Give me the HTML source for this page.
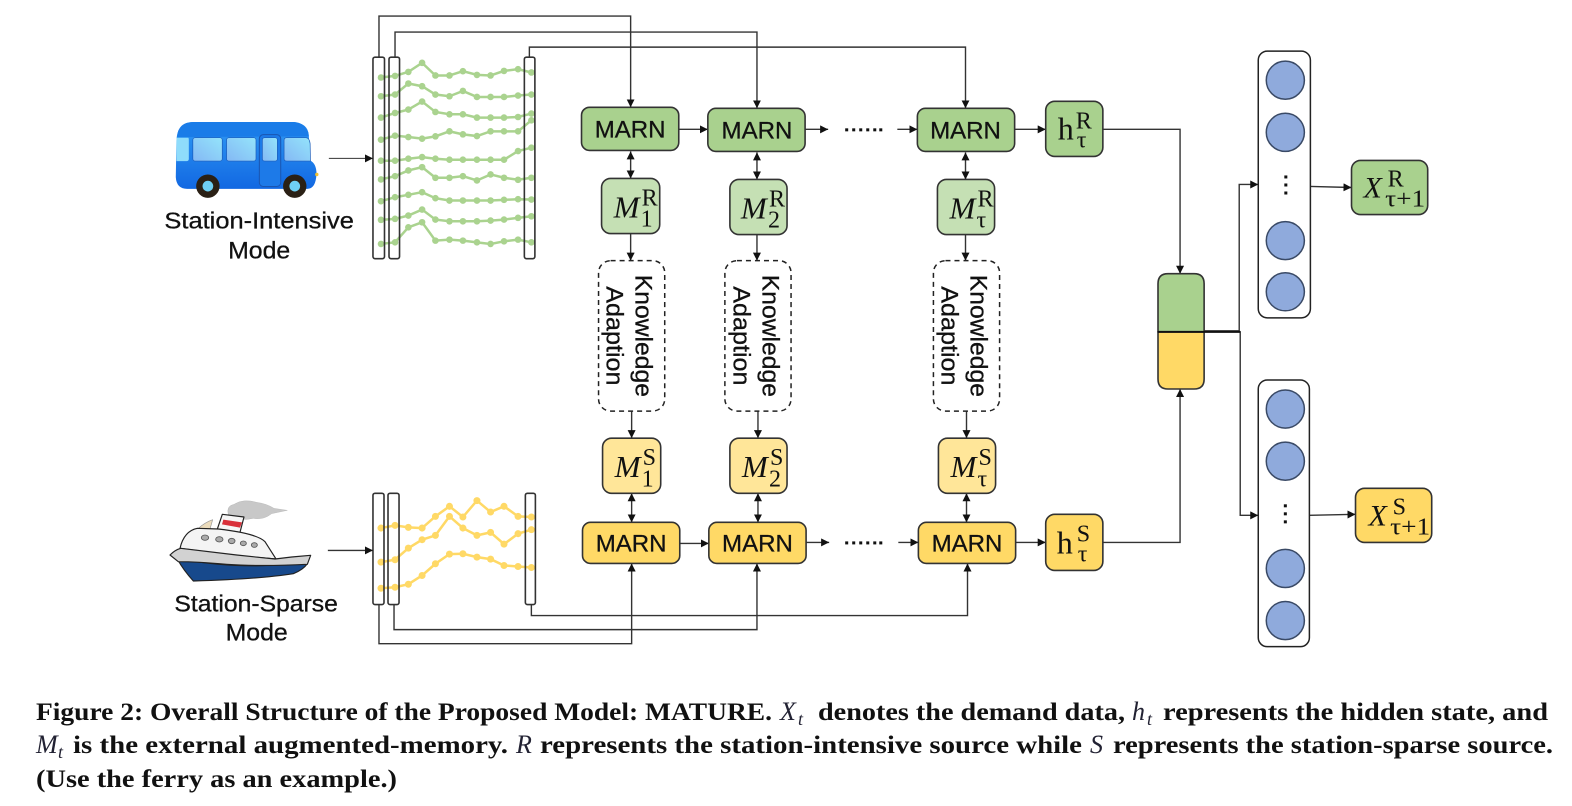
<!DOCTYPE html>
<html>
<head>
<meta charset="utf-8">
<style>
html,body{margin:0;padding:0;background:#fff;width:1572px;height:806px;overflow:hidden}
svg{display:block;filter:blur(.35px)}
.b{stroke:#333;stroke-width:1.6}
.l{fill:none;stroke:#333;stroke-width:1.4}
.t{font-family:"Liberation Sans",sans-serif;fill:#111;stroke:#111;stroke-width:.3;text-anchor:middle}
.m{font-family:"Liberation Serif",serif;fill:#111}
.i{font-style:italic}
.c{font-family:"Liberation Serif",serif;font-size:25px;font-weight:bold;fill:#111}
.ci{font-family:"Liberation Serif",serif;font-size:26px;font-style:italic;fill:#223}
.cs{font-family:"Liberation Serif",serif;font-size:18px;font-style:italic;fill:#223}
</style>
</head>
<body>
<svg width="1572" height="806" viewBox="0 0 1572 806" xmlns="http://www.w3.org/2000/svg">
<defs>
<marker id="a" markerWidth="9" markerHeight="8" refX="8" refY="4" orient="auto-start-reverse" markerUnits="userSpaceOnUse"><path d="M0,0L8,4L0,8Z" fill="#111"/></marker>
<linearGradient id="bg" x1="0" y1="0" x2="0" y2="1"><stop offset="0" stop-color="#2f9af5"/><stop offset="1" stop-color="#1268e2"/></linearGradient>
<linearGradient id="wg" x1="0" y1="1" x2="1" y2="0"><stop offset="0" stop-color="#84b8f4"/><stop offset="1" stop-color="#94e4fb"/></linearGradient>
</defs>

<!-- ship (true coordinates) -->
<g transform="translate(160,495) scale(.33333)" stroke="#222" stroke-width="3.500" stroke-linejoin="round">
<path d="M205,60Q198,32 222,28Q250,10 290,22Q320,26 342,40L382,46L335,56Q310,76 280,70Q240,80 205,60Z" fill="#c8c8c8" stroke="#aaa" stroke-width="1"/>
<path d="M115,100Q135,82 158,74L150,102Z" fill="#ecdcbc" stroke="#999" stroke-width="2"/>
<path d="M187,58L252,66L240,112L172,102Z" fill="#f6f6f6"/>
<path d="M190,74L246,82L240,98L186,88Z" fill="#d9303a" stroke="none"/>
<path d="M60,160Q72,108 112,100L175,102Q290,115 315,140L348,192L230,182Z" fill="#f4f4f4"/>
<g fill="#aaa" stroke="#555" stroke-width="2.500">
<ellipse cx="135" cy="128" rx="11" ry="8"/><ellipse cx="178" cy="133" rx="11" ry="8"/><ellipse cx="215" cy="138" rx="10" ry="8"/><ellipse cx="250" cy="145" rx="9" ry="7"/><ellipse cx="283" cy="150" rx="9" ry="7"/>
</g>
<path d="M52,192Q200,215 300,212L442,206Q430,224 400,236Q300,252 100,258Q70,225 52,192Z" fill="#17498c"/>
<path d="M30,180Q45,165 62,160L230,180L345,192L395,186L452,181L442,208Q300,215 200,208Q110,200 55,200Z" fill="#d2d2d2"/>
</g>

<g transform="scale(1.0026)">
<!-- bus -->
<g transform="translate(150,0) scale(.33333)">
<path d="M78,420Q80,365 130,365L430,365Q472,370 474,405L478,480Q497,490 497,520Q495,565 470,565L110,565Q78,565 76,530Z" fill="url(#bg)"/>
<path d="M80,410Q82,365 130,365L430,365Q472,370 474,408Z" fill="#1a7ce8"/>
<circle cx="498" cy="522" r="5" fill="#f2c230"/>
<path d="M78,412L113,412Q115,412 115,420L115,475Q115,482 108,482L78,482Z" fill="#8fdcfb"/>
<rect x="127" y="412" width="88" height="70" rx="7" fill="url(#wg)" stroke="#1a5ab8" stroke-width="2"/>
<rect x="228" y="412" width="88" height="70" rx="7" fill="url(#wg)" stroke="#1a5ab8" stroke-width="2"/>
<rect x="326" y="403" width="64" height="155" rx="12" fill="#1d7ae8" stroke="#1a55b0" stroke-width="3"/>
<rect x="335" y="412" width="45" height="70" rx="7" fill="url(#wg)" stroke="#1a5ab8" stroke-width="2"/>
<path d="M408,412L465,412Q476,412 478,430L479,482L408,482Q400,482 400,475L400,420Q400,412 408,412Z" fill="url(#wg)" stroke="#1a5ab8" stroke-width="2"/>
<circle cx="172" cy="557" r="35" fill="#2a2015"/><circle cx="172" cy="557" r="16" fill="#6fd0f5"/>
<circle cx="432" cy="557" r="35" fill="#2a2015"/><circle cx="432" cy="557" r="16" fill="#6fd0f5"/>
</g>

<!-- mode labels -->
<text class="t" x="258.500" y="228" font-size="23.500" textLength="189" lengthAdjust="spacingAndGlyphs">Station-Intensive</text>
<text class="t" x="258.500" y="258" font-size="24" textLength="62" lengthAdjust="spacingAndGlyphs">Mode</text>
<text class="t" x="255.500" y="610" font-size="23.500" textLength="163" lengthAdjust="spacingAndGlyphs">Station-Sparse</text>
<text class="t" x="256" y="639" font-size="24" textLength="62" lengthAdjust="spacingAndGlyphs">Mode</text>

<!-- green series -->
<g fill="none" stroke="#aad38f" stroke-width="2.500">
<polyline points="380,77.300 394,75.700 407.300,71.700 421,62.700 434.300,75.300 448.300,75.300 461.700,71 475.700,74.700 489.300,75.300 502.700,70.700 516.700,69 530,72.300"/>
<polyline points="380,96 394,94.300 407.300,83.300 421,86 434.300,94.300 448.300,96 461.700,90.700 475.700,96.700 489.300,96.700 502.700,96.700 516.700,95.300 530,94.300"/>
<polyline points="380,117.300 394,112.700 407.300,109.300 421,101.300 434.300,111.700 448.300,114 461.700,114 475.700,117.300 489.300,117.300 502.700,117.300 516.700,116.700 530,113.300"/>
<polyline points="380,139.300 394,135.300 407.300,136.700 421,138.300 434.300,136 448.300,131 461.700,134 475.700,135.700 489.300,131 502.700,131 516.700,131 530,120"/>
<polyline points="380,160.300 394,160.300 407.300,158.300 421,156.700 434.300,158.300 448.300,159.300 461.700,159.300 475.700,159.300 489.300,159.300 502.700,159.300 516.700,150.700 530,147.300"/>
<polyline points="380,179 394,175.700 407.300,170 421,166.700 434.300,177.300 448.300,177.300 461.700,175.700 475.700,180 489.300,174 502.700,177.300 516.700,179.300 530,177.300"/>
<polyline points="380,200.700 394,196.700 407.300,194.300 421,191.700 434.300,197.700 448.300,200 461.700,200 475.700,200 489.300,200 502.700,199.300 516.700,198.700 530,199"/>
<polyline points="380,219.300 394,218.300 407.300,215 421,209 434.300,219 448.300,220.700 461.700,220.700 475.700,220.700 489.300,220 502.700,219 516.700,217.300 530,215.700"/>
<polyline points="380,243.300 394,241.700 407.300,226.700 421,221.700 434.300,240 448.300,239 461.700,240 475.700,241.700 489.300,243.300 502.700,240.700 516.700,239 530,241.700"/>
</g>
<g fill="#aad38f">
<circle cx="380" cy="77.300" r="3.300"/><circle cx="394" cy="75.700" r="3.300"/><circle cx="407.300" cy="71.700" r="3.300"/><circle cx="421" cy="62.700" r="3.300"/><circle cx="434.300" cy="75.300" r="3.300"/><circle cx="448.300" cy="75.300" r="3.300"/><circle cx="461.700" cy="71" r="3.300"/><circle cx="475.700" cy="74.700" r="3.300"/><circle cx="489.300" cy="75.300" r="3.300"/><circle cx="502.700" cy="70.700" r="3.300"/><circle cx="516.700" cy="69" r="3.300"/><circle cx="530" cy="72.300" r="3.300"/>
<circle cx="380" cy="96" r="3.300"/><circle cx="394" cy="94.300" r="3.300"/><circle cx="407.300" cy="83.300" r="3.300"/><circle cx="421" cy="86" r="3.300"/><circle cx="434.300" cy="94.300" r="3.300"/><circle cx="448.300" cy="96" r="3.300"/><circle cx="461.700" cy="90.700" r="3.300"/><circle cx="475.700" cy="96.700" r="3.300"/><circle cx="489.300" cy="96.700" r="3.300"/><circle cx="502.700" cy="96.700" r="3.300"/><circle cx="516.700" cy="95.300" r="3.300"/><circle cx="530" cy="94.300" r="3.300"/>
<circle cx="380" cy="117.300" r="3.300"/><circle cx="394" cy="112.700" r="3.300"/><circle cx="407.300" cy="109.300" r="3.300"/><circle cx="421" cy="101.300" r="3.300"/><circle cx="434.300" cy="111.700" r="3.300"/><circle cx="448.300" cy="114" r="3.300"/><circle cx="461.700" cy="114" r="3.300"/><circle cx="475.700" cy="117.300" r="3.300"/><circle cx="489.300" cy="117.300" r="3.300"/><circle cx="502.700" cy="117.300" r="3.300"/><circle cx="516.700" cy="116.700" r="3.300"/><circle cx="530" cy="113.300" r="3.300"/>
<circle cx="380" cy="139.300" r="3.300"/><circle cx="394" cy="135.300" r="3.300"/><circle cx="407.300" cy="136.700" r="3.300"/><circle cx="421" cy="138.300" r="3.300"/><circle cx="434.300" cy="136" r="3.300"/><circle cx="448.300" cy="131" r="3.300"/><circle cx="461.700" cy="134" r="3.300"/><circle cx="475.700" cy="135.700" r="3.300"/><circle cx="489.300" cy="131" r="3.300"/><circle cx="502.700" cy="131" r="3.300"/><circle cx="516.700" cy="131" r="3.300"/><circle cx="530" cy="120" r="3.300"/>
<circle cx="380" cy="160.300" r="3.300"/><circle cx="394" cy="160.300" r="3.300"/><circle cx="407.300" cy="158.300" r="3.300"/><circle cx="421" cy="156.700" r="3.300"/><circle cx="434.300" cy="158.300" r="3.300"/><circle cx="448.300" cy="159.300" r="3.300"/><circle cx="461.700" cy="159.300" r="3.300"/><circle cx="475.700" cy="159.300" r="3.300"/><circle cx="489.300" cy="159.300" r="3.300"/><circle cx="502.700" cy="159.300" r="3.300"/><circle cx="516.700" cy="150.700" r="3.300"/><circle cx="530" cy="147.300" r="3.300"/>
<circle cx="380" cy="179" r="3.300"/><circle cx="394" cy="175.700" r="3.300"/><circle cx="407.300" cy="170" r="3.300"/><circle cx="421" cy="166.700" r="3.300"/><circle cx="434.300" cy="177.300" r="3.300"/><circle cx="448.300" cy="177.300" r="3.300"/><circle cx="461.700" cy="175.700" r="3.300"/><circle cx="475.700" cy="180" r="3.300"/><circle cx="489.300" cy="174" r="3.300"/><circle cx="502.700" cy="177.300" r="3.300"/><circle cx="516.700" cy="179.300" r="3.300"/><circle cx="530" cy="177.300" r="3.300"/>
<circle cx="380" cy="200.700" r="3.300"/><circle cx="394" cy="196.700" r="3.300"/><circle cx="407.300" cy="194.300" r="3.300"/><circle cx="421" cy="191.700" r="3.300"/><circle cx="434.300" cy="197.700" r="3.300"/><circle cx="448.300" cy="200" r="3.300"/><circle cx="461.700" cy="200" r="3.300"/><circle cx="475.700" cy="200" r="3.300"/><circle cx="489.300" cy="200" r="3.300"/><circle cx="502.700" cy="199.300" r="3.300"/><circle cx="516.700" cy="198.700" r="3.300"/><circle cx="530" cy="199" r="3.300"/>
<circle cx="380" cy="219.300" r="3.300"/><circle cx="394" cy="218.300" r="3.300"/><circle cx="407.300" cy="215" r="3.300"/><circle cx="421" cy="209" r="3.300"/><circle cx="434.300" cy="219" r="3.300"/><circle cx="448.300" cy="220.700" r="3.300"/><circle cx="461.700" cy="220.700" r="3.300"/><circle cx="475.700" cy="220.700" r="3.300"/><circle cx="489.300" cy="220" r="3.300"/><circle cx="502.700" cy="219" r="3.300"/><circle cx="516.700" cy="217.300" r="3.300"/><circle cx="530" cy="215.700" r="3.300"/>
<circle cx="380" cy="243.300" r="3.300"/><circle cx="394" cy="241.700" r="3.300"/><circle cx="407.300" cy="226.700" r="3.300"/><circle cx="421" cy="221.700" r="3.300"/><circle cx="434.300" cy="240" r="3.300"/><circle cx="448.300" cy="239" r="3.300"/><circle cx="461.700" cy="240" r="3.300"/><circle cx="475.700" cy="241.700" r="3.300"/><circle cx="489.300" cy="243.300" r="3.300"/><circle cx="502.700" cy="240.700" r="3.300"/><circle cx="516.700" cy="239" r="3.300"/><circle cx="530" cy="241.700" r="3.300"/>
</g>

<!-- yellow series -->
<g fill="none" stroke="#ffd966" stroke-width="2.500">
<polyline points="380,526.700 394,524 407.300,526 421,526.700 434.300,515 448.300,505 461.700,515.700 475.700,499.300 489.300,510.700 502.700,505 516.700,515 530,515.700"/>
<polyline points="380,560.700 394,558.300 407.300,546.700 421,538.300 434.300,534 448.300,515 461.700,526.700 475.700,534 489.300,531 502.700,542.700 516.700,532.300 530,528.300"/>
<polyline points="380,586.700 394,585.700 407.300,582.700 421,574 434.300,562.300 448.300,552.700 461.700,552.300 475.700,555.700 489.300,557.700 502.700,564 516.700,565 530,566"/>
</g>
<g fill="#ffd966">
<circle cx="380" cy="526.700" r="3.500"/><circle cx="394" cy="524" r="3.500"/><circle cx="407.300" cy="526" r="3.500"/><circle cx="421" cy="526.700" r="3.500"/><circle cx="434.300" cy="515" r="3.500"/><circle cx="448.300" cy="505" r="3.500"/><circle cx="461.700" cy="515.700" r="3.500"/><circle cx="475.700" cy="499.300" r="3.500"/><circle cx="489.300" cy="510.700" r="3.500"/><circle cx="502.700" cy="505" r="3.500"/><circle cx="516.700" cy="515" r="3.500"/><circle cx="530" cy="515.700" r="3.500"/>
<circle cx="380" cy="560.700" r="3.500"/><circle cx="394" cy="558.300" r="3.500"/><circle cx="407.300" cy="546.700" r="3.500"/><circle cx="421" cy="538.300" r="3.500"/><circle cx="434.300" cy="534" r="3.500"/><circle cx="448.300" cy="515" r="3.500"/><circle cx="461.700" cy="526.700" r="3.500"/><circle cx="475.700" cy="534" r="3.500"/><circle cx="489.300" cy="531" r="3.500"/><circle cx="502.700" cy="542.700" r="3.500"/><circle cx="516.700" cy="532.300" r="3.500"/><circle cx="530" cy="528.300" r="3.500"/>
<circle cx="380" cy="586.700" r="3.500"/><circle cx="394" cy="585.700" r="3.500"/><circle cx="407.300" cy="582.700" r="3.500"/><circle cx="421" cy="574" r="3.500"/><circle cx="434.300" cy="562.300" r="3.500"/><circle cx="448.300" cy="552.700" r="3.500"/><circle cx="461.700" cy="552.300" r="3.500"/><circle cx="475.700" cy="555.700" r="3.500"/><circle cx="489.300" cy="557.700" r="3.500"/><circle cx="502.700" cy="564" r="3.500"/><circle cx="516.700" cy="565" r="3.500"/><circle cx="530" cy="566" r="3.500"/>
</g>

<!-- sequence bars -->
<g fill="none" class="b">
<rect x="372" y="57" width="11.500" height="201" rx="2"/>
<rect x="388" y="57" width="10.500" height="201" rx="2"/>
<rect x="523" y="57" width="10.500" height="201" rx="2"/>
<rect x="372" y="492" width="11" height="111" rx="2"/>
<rect x="387" y="492" width="11" height="111" rx="2"/>
<rect x="524" y="492" width="10" height="111" rx="2"/>
</g>

<!-- connectors -->
<g class="l">
<path d="M378,57V16H629V107" marker-end="url(#a)"/>
<path d="M394,57V32H755V108" marker-end="url(#a)"/>
<path d="M528,57V47H963V108" marker-end="url(#a)"/>
<path d="M378,603V642H630V562" marker-end="url(#a)"/>
<path d="M393,603V628H755V562" marker-end="url(#a)"/>
<path d="M530,603V614H965V562" marker-end="url(#a)"/>
<path d="M328,158H372" stroke-width="1" marker-end="url(#a)"/>
<path d="M327,549H372" marker-end="url(#a)"/>
<path d="M677,129H706" marker-end="url(#a)"/>
<path d="M803,129H826" marker-end="url(#a)"/>
<path d="M895,129H915" marker-end="url(#a)"/>
<path d="M1012,129H1043" marker-end="url(#a)"/>
<path d="M678,542H707" marker-end="url(#a)"/>
<path d="M804,541H827" marker-end="url(#a)"/>
<path d="M896,541H916" marker-end="url(#a)"/>
<path d="M1013,541H1043" marker-end="url(#a)"/>
<path d="M1100,129H1177V273" marker-end="url(#a)"/>
<path d="M1100,541H1177V388" marker-end="url(#a)"/>
<path d="M1201,330H1236V184H1255" marker-end="url(#a)"/>
<path d="M1201,331H1237V514H1255" marker-end="url(#a)"/>
<path d="M1307,186L1348,187" marker-end="url(#a)"/>
<path d="M1306,514L1352,513" marker-end="url(#a)"/>
<path d="M629,233V260" marker-end="url(#a)"/>
<path d="M755,234V260" marker-end="url(#a)"/>
<path d="M963,234V260" marker-end="url(#a)"/>
<path d="M630,410V437" marker-end="url(#a)"/>
<path d="M756,410V437" marker-end="url(#a)"/>
<path d="M964,410V437" marker-end="url(#a)"/>
<path d="M629,151V178" marker-start="url(#a)" marker-end="url(#a)"/>
<path d="M755,152V179" marker-start="url(#a)" marker-end="url(#a)"/>
<path d="M963,152V179" marker-start="url(#a)" marker-end="url(#a)"/>
<path d="M630,492V521" marker-start="url(#a)" marker-end="url(#a)"/>
<path d="M756,492V521" marker-start="url(#a)" marker-end="url(#a)"/>
<path d="M964,492V521" marker-start="url(#a)" marker-end="url(#a)"/>
</g>

<!-- dots -->
<g fill="#111">
<rect x="843" y="128" width="3" height="3"/><rect x="850" y="128" width="3" height="3"/><rect x="857" y="128" width="3" height="3"/><rect x="864" y="128" width="3" height="3"/><rect x="871" y="128" width="3" height="3"/><rect x="877" y="128" width="3" height="3"/>
<rect x="843" y="540" width="3" height="3"/><rect x="850" y="540" width="3" height="3"/><rect x="857" y="540" width="3" height="3"/><rect x="864" y="540" width="3" height="3"/><rect x="871" y="540" width="3" height="3"/><rect x="877" y="540" width="3" height="3"/>
</g>

<!-- boxes -->
<g class="b">
<rect x="580" y="107" width="97" height="43" rx="8" fill="#a9d18e"/>
<rect x="706" y="108" width="97" height="43" rx="8" fill="#a9d18e"/>
<rect x="915" y="108" width="97" height="43" rx="8" fill="#a9d18e"/>
<rect x="581" y="521" width="97" height="41" rx="8" fill="#ffd966"/>
<rect x="707" y="521" width="97" height="41" rx="8" fill="#ffd966"/>
<rect x="916" y="521" width="97" height="41" rx="8" fill="#ffd966"/>
<rect x="600" y="178" width="58" height="55" rx="9" fill="#c5e0b4"/>
<rect x="728" y="179" width="57" height="55" rx="9" fill="#c5e0b4"/>
<rect x="935" y="179" width="57" height="55" rx="9" fill="#c5e0b4"/>
<rect x="601" y="437" width="58" height="55" rx="9" fill="#ffe699"/>
<rect x="728" y="437" width="57" height="55" rx="9" fill="#ffe699"/>
<rect x="936" y="437" width="57" height="55" rx="9" fill="#ffe699"/>
<rect x="1043" y="101" width="57" height="55" rx="9" fill="#a9d18e"/>
<rect x="1043" y="513" width="57" height="56" rx="9" fill="#ffd966"/>
<rect x="1352" y="487" width="76" height="54" rx="9" fill="#ffd966"/>
<rect x="1348" y="160" width="76" height="54" rx="9" fill="#a9d18e"/>
</g>
<g fill="none" stroke="#222" stroke-width="1.500" stroke-dasharray="5 4">
<rect x="597" y="260" width="66" height="150" rx="12" fill="#fff"/>
<rect x="723" y="260" width="66" height="150" rx="12" fill="#fff"/>
<rect x="931" y="260" width="66" height="150" rx="12" fill="#fff"/>
</g>

<g class="t" font-size="24">
<text x="628.500" y="137">MARN</text>
<text x="755" y="138">MARN</text>
<text x="963" y="138">MARN</text>
<text x="629.500" y="550">MARN</text>
<text x="755.500" y="550">MARN</text>
<text x="964.500" y="550">MARN</text>
</g>

<!-- Knowledge adaption -->
<g class="t" font-size="24">
<text transform="translate(634,335) rotate(90)" textLength="122" lengthAdjust="spacingAndGlyphs">Knowledge</text>
<text transform="translate(605,335) rotate(90)" textLength="99" lengthAdjust="spacingAndGlyphs">Adaption</text>
<text transform="translate(760.500,335) rotate(90)" textLength="122" lengthAdjust="spacingAndGlyphs">Knowledge</text>
<text transform="translate(731.500,335) rotate(90)" textLength="99" lengthAdjust="spacingAndGlyphs">Adaption</text>
<text transform="translate(968,335) rotate(90)" textLength="122" lengthAdjust="spacingAndGlyphs">Knowledge</text>
<text transform="translate(939,335) rotate(90)" textLength="99" lengthAdjust="spacingAndGlyphs">Adaption</text>
</g>

<!-- memory labels -->
<g class="m">
<text class="i" x="612" y="217" font-size="31">M</text><text x="640" y="205" font-size="24">R</text><text x="639" y="226" font-size="24">1</text>
<text class="i" x="739" y="218" font-size="31">M</text><text x="767" y="206" font-size="24">R</text><text x="766" y="227" font-size="24">2</text>
<text class="i" x="947" y="218" font-size="31">M</text><text x="975" y="206" font-size="24">R</text><text x="974" y="227" font-size="24">τ</text>
<text class="i" x="613" y="476" font-size="31">M</text><text x="641" y="464" font-size="24">S</text><text x="640" y="485" font-size="24">1</text>
<text class="i" x="740" y="476" font-size="31">M</text><text x="768" y="464" font-size="24">S</text><text x="767" y="485" font-size="24">2</text>
<text class="i" x="948" y="476" font-size="31">M</text><text x="976" y="464" font-size="24">S</text><text x="975" y="485" font-size="24">τ</text>
<text x="1055" y="139" font-size="32">h</text><text x="1073" y="128" font-size="24">R</text><text x="1074" y="147" font-size="24">τ</text>
<text x="1054" y="552" font-size="32">h</text><text x="1074" y="540" font-size="24">S</text><text x="1075" y="560" font-size="24">τ</text>
<text class="i" x="1360" y="197" font-size="30">X</text><text x="1384" y="186" font-size="24">R</text><text x="1381.500" y="206" font-size="24" textLength="40" lengthAdjust="spacingAndGlyphs">τ+1</text>
<text class="i" x="1365" y="524" font-size="30">X</text><text x="1389" y="513" font-size="24">S</text><text x="1386.500" y="533" font-size="24" textLength="40" lengthAdjust="spacingAndGlyphs">τ+1</text>
</g>

<!-- concat block -->
<path d="M1155,331V283Q1155,273 1165,273H1191Q1201,273 1201,283V331Z" fill="#a9d18e" class="b"/>
<path d="M1155,331V378Q1155,388 1165,388H1191Q1201,388 1201,378V331Z" fill="#ffd966" class="b"/>
<path d="M1155,331H1237" stroke="#111" stroke-width="2"/>

<!-- NN columns -->
<rect x="1255" y="51" width="52" height="266" rx="9" fill="#fff" stroke="#222" stroke-width="1.500"/>
<rect x="1255" y="379" width="51" height="266" rx="9" fill="#fff" stroke="#222" stroke-width="1.500"/>
<g fill="#8faadc" stroke="#3a4a66" stroke-width="1.500">
<circle cx="1282" cy="80" r="19"/><circle cx="1282" cy="132" r="19"/><circle cx="1282" cy="240" r="19"/><circle cx="1282" cy="291" r="19"/>
<circle cx="1282" cy="408" r="19"/><circle cx="1282" cy="460" r="19"/><circle cx="1282" cy="567" r="19"/><circle cx="1282" cy="619" r="19"/>
</g>
<g fill="#111">
<rect x="1281" y="175" width="3" height="3"/><rect x="1281" y="183" width="3" height="3"/><rect x="1281" y="191" width="3" height="3"/>
<rect x="1280.500" y="503" width="3" height="3"/><rect x="1280.500" y="511" width="3" height="3"/><rect x="1280.500" y="519" width="3" height="3"/>
</g>
</g>

<!-- caption (true coordinates) -->
<text class="c" x="36" y="720" textLength="736" lengthAdjust="spacingAndGlyphs">Figure 2: Overall Structure of the Proposed Model: MATURE.</text>
<text class="ci" x="780" y="720">X</text><text class="cs" x="798" y="725">t</text>
<text class="c" x="818" y="720" textLength="307" lengthAdjust="spacingAndGlyphs">denotes the demand data,</text>
<text class="ci" x="1132" y="720">h</text><text class="cs" x="1147" y="725">t</text>
<text class="c" x="1163" y="720" textLength="385" lengthAdjust="spacingAndGlyphs">represents the hidden state, and</text>

<text class="ci" x="36" y="753">M</text><text class="cs" x="58" y="758">t</text>
<text class="c" x="73" y="753" textLength="435" lengthAdjust="spacingAndGlyphs">is the external augmented-memory.</text>
<text class="ci" x="516" y="753">R</text>
<text class="c" x="540" y="753" textLength="542" lengthAdjust="spacingAndGlyphs">represents the station-intensive source while</text>
<text class="ci" x="1090" y="753">S</text>
<text class="c" x="1113" y="753" textLength="440" lengthAdjust="spacingAndGlyphs">represents the station-sparse source.</text>

<text class="c" x="36" y="787" textLength="361" lengthAdjust="spacingAndGlyphs">(Use the ferry as an example.)</text>
</svg>
</body>
</html>
